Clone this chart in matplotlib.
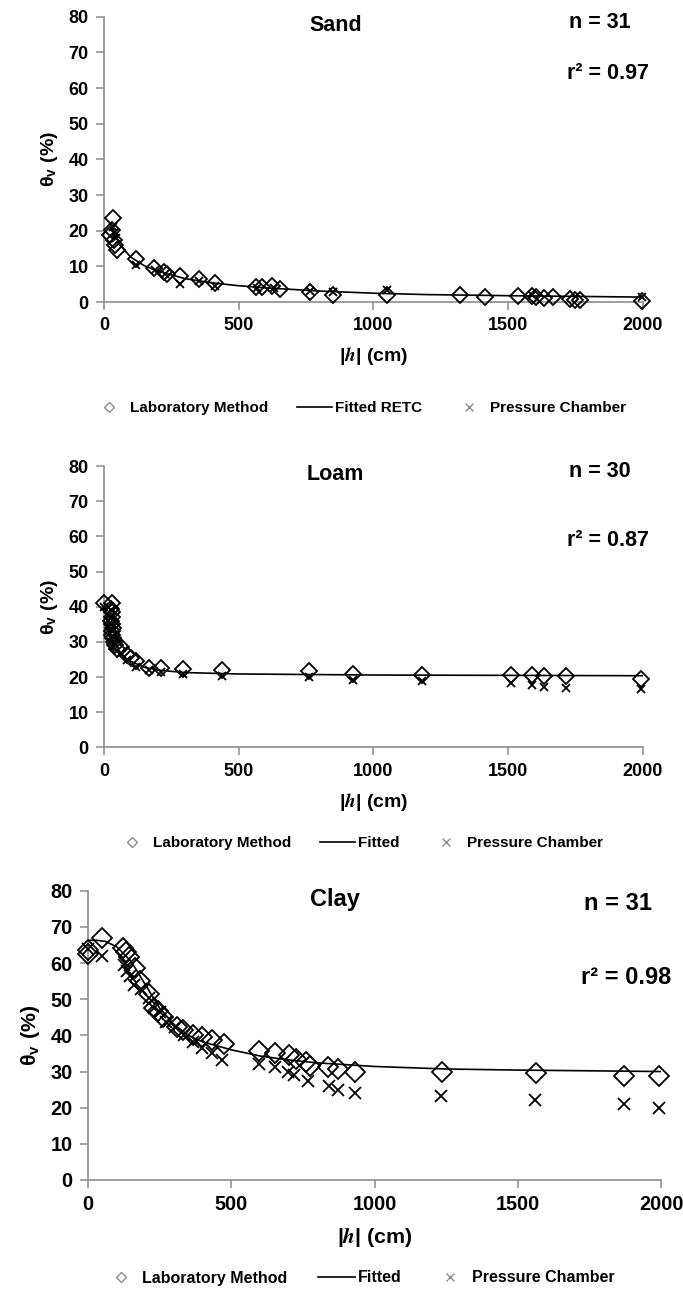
import matplotlib
matplotlib.use("Agg")
import matplotlib.pyplot as plt
from matplotlib.lines import Line2D

plt.rcParams["font.family"] = ["Liberation Sans", "DejaVu Sans"]
plt.rcParams["font.weight"] = "bold"
plt.rcParams["mathtext.fontset"] = "stix"

# ---- Sand ----
sand_lab_h = [34, 29, 24, 38, 42, 50, 120, 187, 225, 235, 282, 355, 412, 563, 586,
              624, 653, 764, 852, 1050, 1321, 1414, 1536, 1590, 1604, 1634, 1666,
              1731, 1748, 1767, 1998]
sand_lab_t = [23.7, 20.1, 18.7, 17.3, 15.9, 14.5, 12.2, 9.6, 8.5, 7.8, 7.3, 6.6, 5.4,
              4.1, 4.1, 4.5, 3.7, 2.9, 1.9, 1.9, 1.9, 1.5, 1.7, 1.7, 1.5, 1.2, 1.3,
              0.9, 0.7, 0.5, 0.2]
sand_pc_h = [34, 38, 44, 120, 190, 228, 282, 355, 412, 570, 630, 764, 852, 1050, 1590, 1998]
sand_pc_t = [21.0, 19.3, 18.0, 10.3, 8.9, 8.0, 5.2, 5.9, 4.6, 4.0, 3.9, 3.1, 2.7, 3.3, 1.9, 1.4]
sand_fit_h = [30, 40, 60, 100, 150, 200, 300, 400, 500, 600, 800, 1000, 1200, 1500, 2000]
sand_fit_t = [21.0, 19.0, 16.0, 12.6, 10.2, 8.7, 6.6, 5.4, 4.6, 4.0, 3.1, 2.5, 2.1, 1.8, 1.4]

# ---- Loam ----
loam_lab_h = [0, 29, 28, 30, 32, 27, 30, 33, 29, 31, 35, 38, 42, 48, 62, 86, 102, 119,
              167, 213, 294, 440, 762, 923, 1180, 1511, 1590, 1633, 1714, 1995]
loam_lab_t = [41.1, 41.1, 39.5, 38.5, 37.2, 36.0, 35.0, 34.0, 33.0, 32.0, 31.0, 30.0,
              29.0, 28.0, 28.6, 26.4, 25.5, 24.5, 22.7, 22.7, 22.3, 22.0, 21.8, 20.9,
              20.7, 20.6, 20.5, 20.3, 20.3, 19.5]
loam_pc_h = [0, 28, 30, 32, 30, 34, 36, 40, 62, 86, 119, 167, 213, 294, 440, 762, 923,
             1180, 1511, 1590, 1633, 1714, 1995]
loam_pc_t = [40.0, 39.0, 37.0, 35.0, 33.0, 31.5, 30.0, 29.0, 27.0, 25.0, 23.0, 22.0,
             21.5, 21.0, 20.4, 20.0, 19.3, 18.8, 18.3, 17.8, 17.3, 17.0, 16.6]
loam_fit_h = [0, 10, 20, 30, 40, 60, 100, 150, 200, 300, 500, 1000, 1500, 2000]
loam_fit_t = [41.0, 37.5, 32.5, 29.5, 28.0, 26.5, 24.5, 22.8, 22.0, 21.3, 20.9, 20.6, 20.5, 20.4]

# ---- Clay ----
clay_lab_h = [0, 0, 50, 122, 133, 142, 163, 180, 213, 229, 244, 262, 309, 332, 366, 396,
              434, 473, 595, 652, 701, 724, 762, 773, 838, 872, 933, 1235, 1562, 1870, 1994]
clay_lab_t = [63.5, 62.5, 67.0, 64.1, 63.2, 61.8, 58.6, 55.0, 51.5, 47.7, 46.8, 45.0,
              42.3, 41.4, 40.0, 39.5, 38.6, 37.7, 35.7, 35.0, 34.5, 33.6, 32.7, 31.5,
              31.2, 30.6, 29.9, 29.9, 29.7, 28.9, 28.9]
clay_pc_h = [0, 50, 125, 137, 145, 160, 183, 213, 229, 252, 271, 305, 335, 366, 396, 431,
             468, 595, 652, 698, 720, 767, 841, 871, 933, 1232, 1560, 1871, 1993]
clay_pc_t = [63.8, 62.0, 59.5, 57.7, 56.4, 54.0, 52.7, 50.4, 47.7, 46.4, 43.6, 42.3, 40.0,
             38.2, 36.4, 35.0, 33.2, 32.1, 31.2, 29.8, 29.1, 27.3, 26.1, 25.0, 24.1, 23.1,
             22.1, 21.1, 20.0]
clay_fit_h = [0, 30, 60, 100, 150, 200, 250, 300, 350, 400, 500, 600, 700, 800, 1000,
              1250, 1500, 1750, 2000]
clay_fit_t = [66.3, 66.3, 66.0, 64.5, 60.5, 54.0, 47.5, 43.0, 40.0, 38.2, 36.0, 34.3,
              33.2, 32.4, 31.4, 30.7, 30.4, 30.2, 30.0]

panels = [
    dict(name="Sand", n="n = 31", r2="r² = 0.97", fit="Fitted RETC",
         lab=(sand_lab_h, sand_lab_t), pc=(sand_pc_h, sand_pc_t), line=(sand_fit_h, sand_fit_t),
         rect=[0.152, 0.766, 0.789, 0.221], fs=1.0, ms=8, leg_y=408,
         n_pos=(0.92, 0.98), r2_pos=(0.86, 0.80), leg_fs=11),
    dict(name="Loam", n="n = 30", r2="r² = 0.87", fit="Fitted",
         lab=(loam_lab_h, loam_lab_t), pc=(loam_pc_h, loam_pc_t), line=(loam_fit_h, loam_fit_t),
         rect=[0.152, 0.421, 0.789, 0.218], fs=1.0, ms=8, leg_y=843,
         n_pos=(0.92, 0.98), r2_pos=(0.86, 0.735), leg_fs=11),
    dict(name="Clay", n="n = 31", r2="r² = 0.98", fit="Fitted",
         lab=(clay_lab_h, clay_lab_t), pc=(clay_pc_h, clay_pc_t), line=(clay_fit_h, clay_fit_t),
         rect=[0.129, 0.086, 0.839, 0.224], fs=1.1, ms=10, leg_y=1278,
         n_pos=(0.925, 0.955), r2_pos=(0.86, 0.70), leg_fs=11.5),
]

fig = plt.figure(figsize=(6.83, 12.91), dpi=100)
grey = "#8c8c8c"

for p in panels:
    ax = fig.add_axes(p["rect"])
    fs = p["fs"]
    ax.plot(p["line"][0], p["line"][1], color="black", lw=1.2, zorder=2)
    ax.plot(p["lab"][0], p["lab"][1], "D", ms=p["ms"], mfc="none", mec="black",
            mew=1.3, zorder=3, clip_on=False)
    ax.plot(p["pc"][0], p["pc"][1], "x", ms=p["ms"] * 0.8, color="black",
            mew=1.3, zorder=3, clip_on=False)
    ax.set_xlim(0, 2000)
    ax.set_ylim(0, 80)
    ax.set_xticks([0, 500, 1000, 1500, 2000])
    ax.set_yticks(range(0, 81, 10))
    for s in ["top", "right"]:
        ax.spines[s].set_visible(False)
    for s in ["left", "bottom"]:
        ax.spines[s].set_color(grey)
        ax.spines[s].set_linewidth(1.2)
    ax.tick_params(direction="out", length=6, width=1.1, color=grey,
                   labelsize=13 * fs, pad=5)
    for lbl in ax.get_xticklabels() + ax.get_yticklabels():
        lbl.set_fontweight("bold")
    ax.set_xlabel(r"|$\mathit{h}$| (cm)", fontsize=14 * fs, fontweight="bold", labelpad=8)
    ax.set_ylabel(r"θ$_\mathregular{v}$ (%)", fontsize=14 * fs, fontweight="bold", labelpad=6)
    ax.text(0.43, 0.97, p["name"], transform=ax.transAxes, ha="center", va="center",
            fontsize=15.5 * fs, fontweight="bold")
    ax.text(p["n_pos"][0], p["n_pos"][1], p["n"], transform=ax.transAxes,
            ha="center", va="center", fontsize=15.5 * fs, fontweight="bold")
    ax.text(p["r2_pos"][0], p["r2_pos"][1], p["r2"], transform=ax.transAxes,
            ha="left", va="center", fontsize=15.5 * fs, fontweight="bold")

    handles = [
        Line2D([], [], ls="none", marker="D", ms=5, mfc="none", mec=grey, mew=1.0),
        Line2D([], [], color="black", lw=1.2),
        Line2D([], [], ls="none", marker="x", ms=6, color=grey, mew=1.0),
    ]
    fig.legend(handles, ["Laboratory Method", p["fit"], "Pressure Chamber"],
               loc="center", bbox_to_anchor=(0.525, 1 - p["leg_y"] / 1291), ncol=3,
               frameon=False, prop=dict(size=p["leg_fs"], weight="bold"),
               handlelength=2.3, handletextpad=0.2, columnspacing=1.9)

fig.savefig("out.png", dpi=100)
